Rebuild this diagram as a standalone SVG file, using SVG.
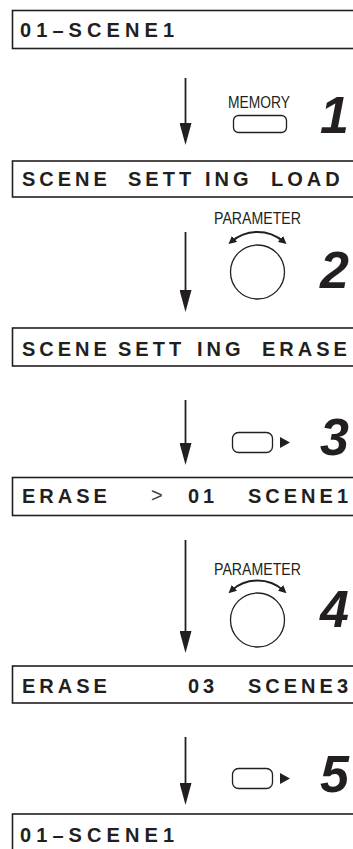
<svg xmlns="http://www.w3.org/2000/svg" width="353" height="849" viewBox="0 0 353 849">
<style>
.box{fill:none;stroke:#231f20;stroke-width:1.6}
.lcd{font-family:"Liberation Sans",Arial,sans-serif;font-weight:bold;font-size:20px;fill:#231f20;letter-spacing:4px}
.lbl{font-family:"Liberation Sans",Arial,sans-serif;font-size:16px;fill:#231f20}
.num{font-family:"Liberation Sans",Arial,sans-serif;font-weight:bold;font-style:italic;font-size:52px;fill:#231f20}
.btn{fill:none;stroke:#231f20;stroke-width:1.3}
.knob{fill:none;stroke:#231f20;stroke-width:1.3}
.arc{fill:none;stroke:#231f20;stroke-width:2}
.flow{stroke:#231f20;stroke-width:1.8}
.chev{font-family:"Liberation Sans",Arial,sans-serif;font-size:20px;fill:#444}
</style>
<defs>
<marker id="head" markerUnits="userSpaceOnUse" viewBox="0 0 22 12" refX="0" refY="6" markerWidth="22" markerHeight="12" orient="auto">
<path d="M0,0 L22,6 L0,12 z" fill="#231f20"/>
</marker>
<marker id="ahead" markerUnits="userSpaceOnUse" viewBox="0 0 8 8" refX="4" refY="4" markerWidth="8" markerHeight="8" orient="auto-start-reverse">
<path d="M0,0 L8,4 L0,8 z" fill="#231f20"/>
</marker>
</defs>

<g id="display1">
<rect class="box" x="12.5" y="10.5" width="360" height="38"/>
<text class="lcd" x="20" y="37" textLength="158" lengthAdjust="spacing">01–SCENE1</text>
</g>

<g id="step1">
<text class="lbl" x="228" y="108" textLength="62" lengthAdjust="spacingAndGlyphs">MEMORY</text>
<rect class="btn" x="233.5" y="115.5" width="53" height="17" rx="5"/>
<text class="num" x="349" y="133" text-anchor="end">1</text>
</g>

<g id="display2">
<rect class="box" x="12.5" y="161" width="360" height="36"/>
<text class="lcd" y="186"><tspan x="22">SCENE</tspan><tspan x="128">SETT</tspan><tspan x="205">ING</tspan><tspan x="271">LOAD</tspan></text>
</g>

<g id="step2">
<text class="lbl" x="214" y="224" textLength="87" lengthAdjust="spacingAndGlyphs">PARAMETER</text>
<path class="arc" d="M231.5 241.5 A40 40 0 0 1 283.5 241.5" marker-start="url(#ahead)" marker-end="url(#ahead)"/>
<circle class="knob" cx="257.5" cy="272" r="27"/>
<text class="num" x="349" y="288" text-anchor="end">2</text>
</g>

<g id="display3">
<rect class="box" x="12.5" y="328" width="360" height="38"/>
<text class="lcd" y="356"><tspan x="22">SCENE</tspan><tspan x="118">SETT</tspan><tspan x="197">ING</tspan><tspan x="262">ERASE</tspan></text>
</g>

<g id="step3">
<rect class="btn" x="232.5" y="432.5" width="40" height="20" rx="6"/>
<polygon points="280,437 290,442.5 280,448" fill="#231f20"/>
<text class="num" x="349" y="455" text-anchor="end">3</text>
</g>

<g id="display4">
<rect class="box" x="12.5" y="477.5" width="360" height="38"/>
<text class="lcd" y="503"><tspan x="22">ERASE</tspan><tspan x="188">01</tspan><tspan x="248">SCENE1</tspan></text>
<text class="chev" x="151" y="502">&gt;</text>
</g>

<g id="step4">
<text class="lbl" x="214" y="575" textLength="87" lengthAdjust="spacingAndGlyphs">PARAMETER</text>
<path class="arc" d="M231.5 590.5 A39 39 0 0 1 283.5 590.5" marker-start="url(#ahead)" marker-end="url(#ahead)"/>
<circle class="knob" cx="257.5" cy="620" r="27"/>
<text class="num" x="349" y="627" text-anchor="end">4</text>
</g>

<g id="display5">
<rect class="box" x="12.5" y="666" width="360" height="37"/>
<text class="lcd" y="693"><tspan x="22">ERASE</tspan><tspan x="188">03</tspan><tspan x="248">SCENE3</tspan></text>
</g>

<g id="step5">
<rect class="btn" x="232.5" y="768.5" width="40" height="20" rx="6"/>
<polygon points="280,773 290,778.5 280,784" fill="#231f20"/>
<text class="num" x="349" y="792" text-anchor="end">5</text>
</g>

<g id="display6">
<rect class="box" x="12.5" y="814" width="360" height="40"/>
<text class="lcd" x="20" y="842" textLength="158" lengthAdjust="spacing">01–SCENE1</text>
</g>

<g id="connectors">
<line class="flow" x1="185.5" y1="78" x2="185.5" y2="123" marker-end="url(#head)"/>
<line class="flow" x1="185.5" y1="232" x2="185.5" y2="290" marker-end="url(#head)"/>
<line class="flow" x1="185.5" y1="400" x2="185.5" y2="443" marker-end="url(#head)"/>
<line class="flow" x1="185.5" y1="540" x2="185.5" y2="631" marker-end="url(#head)"/>
<line class="flow" x1="185.5" y1="737" x2="185.5" y2="783" marker-end="url(#head)"/>
</g>
</svg>
